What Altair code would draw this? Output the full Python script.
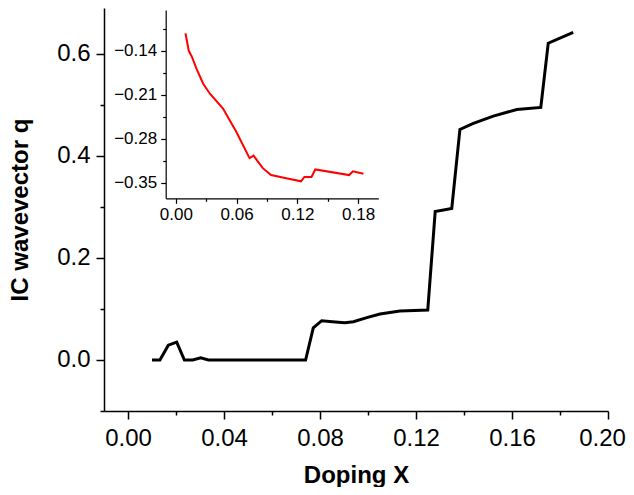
import altair as alt
import pandas as pd

# ---- data ----
main_x = [0.0100, 0.0133, 0.0168, 0.0203, 0.0235, 0.0270, 0.0303, 0.0335, 0.0740,
          0.0772, 0.0807, 0.0876, 0.0904, 0.0939, 0.0995, 0.1050, 0.1133, 0.1249,
          0.1280, 0.1349, 0.1383, 0.1439, 0.1522, 0.1620, 0.1720, 0.1751, 0.1855]
main_q = [0.000, 0.000, 0.029, 0.035, 0.000, 0.000, 0.0045, 0.000, 0.000,
          0.063, 0.077, 0.074, 0.073, 0.075, 0.083, 0.090, 0.096, 0.098,
          0.291, 0.297, 0.452, 0.464, 0.478, 0.491, 0.495, 0.621, 0.642]

inset_x = [0.0095, 0.0128, 0.0160, 0.0203, 0.0269, 0.0335, 0.0466, 0.0597, 0.0728,
           0.0768, 0.0859, 0.0941, 0.1090, 0.1237, 0.1270, 0.1340, 0.1378, 0.1712,
           0.1750, 0.1853]
inset_q = [-0.112, -0.140, -0.150, -0.168, -0.192, -0.208, -0.232, -0.269, -0.311,
           -0.307, -0.327, -0.338, -0.343, -0.348, -0.341, -0.341, -0.329, -0.338,
           -0.332, -0.336]

main_x_ticks = [0.0, 0.04, 0.08, 0.12, 0.16, 0.20]
main_x_minor = [0.02, 0.06, 0.10, 0.14, 0.18]
main_y_ticks = [0.0, 0.2, 0.4, 0.6]
main_y_minor = [-0.1, 0.1, 0.3, 0.5]
inset_x_ticks = [0.0, 0.06, 0.12, 0.18]
inset_x_minor = [0.03, 0.09, 0.15]
inset_y_ticks = [-0.35, -0.28, -0.21, -0.14]
inset_y_minor = [-0.315, -0.245, -0.175, -0.105]

W, H = 504, 403
FONT = "Liberation Sans"

main_df = pd.DataFrame({"x": main_x, "q": main_q})
inset_df = pd.DataFrame({"x": inset_x, "q": inset_q})


def mx():
    return alt.Scale(domain=[-0.01, 0.20], nice=False, zero=False)


def my():
    return alt.Scale(domain=[-0.1, 0.69], nice=False, zero=False)


def ix():
    return alt.Scale(domain=[-0.01, 0.20], range=[61.7, 274.3], nice=False, zero=False)


def iy():
    return alt.Scale(domain=[-0.375, -0.075], range=[190.3, 2], nice=False, zero=False)


common = dict(grid=False, domainColor="black", tickColor="black", labelColor="black",
              titleColor="black", labelFont=FONT, titleFont=FONT)

main_line = alt.Chart(main_df).mark_line(color="black", strokeWidth=3).encode(
    x=alt.X("x:Q", scale=mx(), axis=alt.Axis(
        orient="bottom", values=main_x_ticks, format=".2f", title="Doping X",
        tickSize=8, tickWidth=1.5, domainWidth=1.5, labelPadding=7, labelFontSize=24,
        labelOffset={"condition": {"test": "datum.value > 0.19", "value": -6}, "value": 0},
        titleFontSize=24, titleFontWeight="bold", titleY=71, titleBaseline="alphabetic",
        labelFlush=False, labelOverlap=False, **common)),
    y=alt.Y("q:Q", scale=my(), axis=alt.Axis(
        orient="left", values=main_y_ticks, format=".1f", title="IC wavevector q",
        tickSize=8, tickWidth=1.5, domainWidth=1.5, labelPadding=6, labelFontSize=24,
        titleFontSize=24, titleFontWeight="bold", titleAngle=270, titleX=-77,
        titleY=201.5, titleBaseline="alphabetic", titleAlign="center",
        labelFlush=False, labelOverlap=False, **common)),
)

main_minor = alt.Chart(main_df).mark_line(opacity=0).encode(
    x=alt.X("x:Q", scale=mx(), axis=alt.Axis(
        orient="bottom", values=main_x_minor, labels=False, domain=False, title=None,
        tickSize=4, tickWidth=1.5, **common)),
    y=alt.Y("q:Q", scale=my(), axis=alt.Axis(
        orient="left", values=main_y_minor, labels=False, domain=False, title=None,
        tickSize=4, tickWidth=1.5, **common)),
)

inset_line = alt.Chart(inset_df).mark_line(color="#ff0000", strokeWidth=2).encode(
    x=alt.X("x:Q", scale=ix(), axis=alt.Axis(
        orient="bottom", offset=-212.7, values=inset_x_ticks, format=".2f", title=None,
        tickSize=5, tickWidth=1.2, domainWidth=1.2, labelPadding=3, labelFontSize=17,
        labelFlush=False, labelOverlap=False, **common)),
    y=alt.Y("q:Q", scale=iy(), axis=alt.Axis(
        orient="left", offset=-61.7, values=inset_y_ticks, format=".2f", title=None,
        tickSize=5, tickWidth=1.2, domainWidth=1.2, labelPadding=4, labelFontSize=17,
        labelFlush=False, labelOverlap=False, **common)),
)

inset_minor = alt.Chart(inset_df).mark_line(opacity=0).encode(
    x=alt.X("x:Q", scale=ix(), axis=alt.Axis(
        orient="bottom", offset=-212.7, values=inset_x_minor, labels=False, domain=False,
        title=None, tickSize=3, tickWidth=1.2, **common)),
    y=alt.Y("q:Q", scale=iy(), axis=alt.Axis(
        orient="left", offset=-61.7, values=inset_y_minor, labels=False, domain=False,
        title=None, tickSize=3, tickWidth=1.2, **common)),
)

chart = alt.layer(main_line, main_minor, inset_line, inset_minor).resolve_scale(
    x="independent", y="independent"
).properties(
    width=W, height=H, autosize="none",
    padding={"left": 96, "top": 0, "right": 18, "bottom": 76},
).configure_view(strokeWidth=0)

chart.save("out.html", embed_options={"renderer": "svg", "actions": False})
